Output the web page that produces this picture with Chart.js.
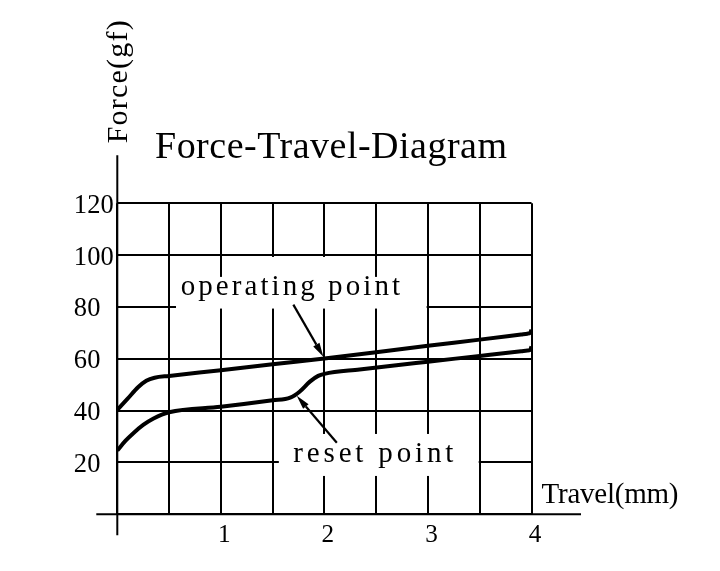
<!DOCTYPE html>
<html>
<head>
<meta charset="utf-8">
<script src="https://cdn.jsdelivr.net/npm/chart.js@4.4.1/dist/chart.umd.min.js"></script>
<style>
html,body{margin:0;padding:0;background:#fff;}
#wrap{width:720px;height:571px;position:relative;}
</style>
</head>
<body>
<div id="wrap"><canvas id="c" width="720" height="571" style="width:720px;height:571px"></canvas></div>
<script>
// ---------------- data ----------------
const chartTitle = 'Force-Travel-Diagram';
const xAxisTitle = 'Travel(mm)';
const yAxisTitle = 'Force(gf)';

const xTickValues = [1, 2, 3, 4];
const xTickLabels = ['1', '2', '3', '4'];
const yTickValues = [20, 40, 60, 80, 100, 120];
const yTickLabels = ['20', '40', '60', '80', '100', '120'];

const operatingTravel = [0, 0.1, 0.2, 0.28, 0.36, 0.5, 1.0, 1.5, 2.0, 2.5, 3.0, 3.5, 3.9, 3.96, 3.985, 4.0];
const operatingForce  = [40.3, 44.6, 49.0, 51.5, 52.7, 53.4, 55.6, 57.9, 60.1, 62.5, 65.0, 67.4, 69.4, 69.7, 70.0, 71.2];

const resetTravel = [0, 0.08, 0.16, 0.25, 0.35, 0.5, 1.0, 1.5, 1.67, 1.76, 1.86, 1.94, 2.0, 2.34, 3.0, 3.5, 3.9, 3.96, 3.985, 4.0];
const resetForce  = [24.6, 28.4, 31.5, 34.5, 37.0, 39.4, 41.5, 44.0, 45.0, 47.3, 51.2, 53.4, 54.2, 55.9, 58.9, 61.1, 62.9, 63.2, 63.4, 64.7];

const annotationLabels = ['operating point', 'reset point'];
const arrowTailTravel = [1.70, 2.12];
const arrowTailForce  = [80.9, 27.6];
const arrowTipTravel  = [1.99, 1.733];
const arrowTipForce   = [60.8, 45.7];

// ---------------- helpers ----------------
const FONT = '"Liberation Serif", "DejaVu Serif", serif';
function toPoints(xs, ys) { return xs.map((x, i) => ({ x: x, y: ys[i] })); }

function drawFitText(ctx, text, x, y, width, size, align) {
  ctx.font = size + 'px ' + FONT;
  const hasLS = ('letterSpacing' in ctx);
  if (hasLS) ctx.letterSpacing = '0px';
  const w0 = ctx.measureText(text).width;
  ctx.textAlign = 'left';
  ctx.textBaseline = 'alphabetic';
  let left = x;
  if (align === 'center') left = x - width / 2;
  if (align === 'right') left = x - width;
  if (hasLS && text.length > 1) {
    const ls = (width - w0) / (text.length - 1);
    ctx.letterSpacing = ls + 'px';
    ctx.fillText(text, left, y);
    ctx.letterSpacing = '0px';
  } else {
    ctx.save();
    ctx.translate(left, y);
    ctx.scale(width / w0, 1);
    ctx.fillText(text, 0, 0);
    ctx.restore();
  }
}

function drawArrow(ctx, x0, y0, x1, y1) {
  const ang = Math.atan2(y1 - y0, x1 - x0);
  const len = 14, hw = 3.6;
  const bx = x1 - Math.cos(ang) * len, by = y1 - Math.sin(ang) * len;
  ctx.beginPath();
  ctx.moveTo(x0, y0);
  ctx.lineTo(bx, by);
  ctx.lineWidth = 2.2;
  ctx.stroke();
  ctx.beginPath();
  ctx.moveTo(x1, y1);
  ctx.lineTo(bx + Math.sin(ang) * hw, by - Math.cos(ang) * hw);
  ctx.lineTo(bx - Math.sin(ang) * hw, by + Math.cos(ang) * hw);
  ctx.closePath();
  ctx.fill();
}

const decorPlugin = {
  id: 'decor',
  afterDatasetsDraw(chart) {
    const ctx = chart.ctx;
    const X = chart.scales.x, Y = chart.scales.y;
    const px = v => X.getPixelForValue(v);
    const py = v => Y.getPixelForValue(v);
    ctx.save();

    // label backgrounds that break the grid
    ctx.fillStyle = '#fff';
    ctx.fillRect(px(0.567), py(91.6), px(2.987) - px(0.567), py(80) + 1.6 - py(91.6));
    ctx.fillRect(px(1.4), py(99.3), px(2.2) - px(1.4), py(91.6) - py(99.3) + 1);
    ctx.fillRect(px(1.56), py(31.0), px(3.49) - px(1.56), py(14.8) - py(31.0));

    // axes (extended beyond the grid)
    ctx.strokeStyle = '#000';
    ctx.fillStyle = '#000';
    ctx.lineWidth = 2;
    ctx.beginPath();
    ctx.moveTo(px(0), py(120) - 48);
    ctx.lineTo(px(0), py(0) + 21);
    ctx.moveTo(px(0) - 21, py(0));
    ctx.lineTo(px(4) + 49.5, py(0));
    ctx.stroke();

    // tick labels
    yTickValues.forEach((v, i) => {
      drawFitText(ctx, yTickLabels[i], px(0) - 43.5, py(v) + 9.5, 13.3 * yTickLabels[i].length, 26.5, 'left');
    });
    xTickValues.forEach((v, i) => {
      drawFitText(ctx, xTickLabels[i], px(v) + 3.5, py(0) + 27.5, 12.6 * xTickLabels[i].length, 25, 'center');
    });

    // titles
    drawFitText(ctx, chartTitle, 155, 158.3, 352, 38, 'left');
    drawFitText(ctx, xAxisTitle, px(4) + 10, py(0) - 11, 137, 29, 'left');
    ctx.save();
    ctx.translate(px(0) + 9.5, py(120) - 60);
    ctx.rotate(-Math.PI / 2);
    drawFitText(ctx, yAxisTitle, 0, 0, 123, 30, 'left');
    ctx.restore();

    // annotations
    drawFitText(ctx, annotationLabels[0], 180.7, 295, 219.3, 29, 'left');
    drawFitText(ctx, annotationLabels[1], 293.3, 461.7, 160, 29, 'left');
    for (let i = 0; i < annotationLabels.length; i++) {
      drawArrow(ctx, px(arrowTailTravel[i]), py(arrowTailForce[i]), px(arrowTipTravel[i]), py(arrowTipForce[i]));
    }
    ctx.restore();
  }
};

new Chart(document.getElementById('c'), {
  type: 'line',
  data: {
    datasets: [
      { label: 'operating', data: toPoints(operatingTravel, operatingForce) },
      { label: 'reset', data: toPoints(resetTravel, resetForce) }
    ]
  },
  options: {
    responsive: false,
    animation: false,
    layout: { padding: { left: 117.3, top: 203.3, right: 188.5, bottom: 56.7 } },
    elements: {
      point: { radius: 0, hoverRadius: 0 },
      line: { borderColor: '#000', borderWidth: 4, cubicInterpolationMode: 'monotone', borderJoinStyle: 'round', fill: false }
    },
    plugins: { legend: { display: false }, title: { display: false }, tooltip: { enabled: false } },
    events: [],
    scales: {
      x: {
        type: 'linear', min: 0, max: 4,
        ticks: { display: false, stepSize: 0.5 },
        grid: { color: '#000', lineWidth: 2, drawTicks: false },
        border: { display: false }
      },
      y: {
        type: 'linear', min: 0, max: 120,
        ticks: { display: false, stepSize: 20 },
        grid: { color: '#000', lineWidth: 2, drawTicks: false },
        border: { display: false }
      }
    }
  },
  plugins: [decorPlugin]
});
</script>
</body>
</html>
